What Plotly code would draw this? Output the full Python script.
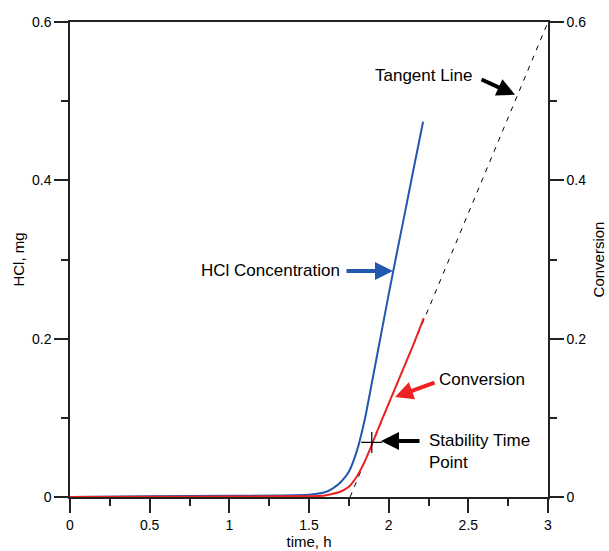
import plotly.graph_objects as go

# ---- data ----
hcl_time = [0, 0.5, 1.0, 1.3, 1.5, 1.55, 1.6, 1.65, 1.7, 1.75, 1.8, 1.85, 1.9, 1.95, 2.0, 2.05, 2.1, 2.15, 2.216]
hcl_mg = [0, 0.0008, 0.0015, 0.002, 0.003, 0.004, 0.006, 0.011, 0.019, 0.032, 0.058, 0.098, 0.15, 0.203, 0.256, 0.307, 0.357, 0.408, 0.474]

conv_time = [0, 0.5, 1.0, 1.3, 1.5, 1.6, 1.65, 1.7, 1.75, 1.8, 1.85, 1.9, 1.95, 2.0, 2.05, 2.1, 2.15, 2.22]
conversion = [0, 0.0003, 0.0006, 0.0008, 0.001, 0.002, 0.004, 0.007, 0.013, 0.026, 0.045, 0.069, 0.094, 0.118, 0.142, 0.166, 0.19, 0.226]

tangent_time = [1.758, 3.0]
tangent_conv = [0.0, 0.6]

stability_time = [1.894]
stability_conv = [0.069]

x_ticks = [0, 0.5, 1, 1.5, 2, 2.5, 3]
x_ticklabels = ["0", "0.5", "1", "1.5", "2", "2.5", "3"]
y_ticks = [0, 0.2, 0.4, 0.6]
y_ticklabels = ["0", "0.2", "0.4", "0.6"]

BLUE = "#2457AE"
RED = "#EE2222"
AX = "#222222"
FONT = "Liberation Sans, Arial, sans-serif"

fig = go.Figure()
fig.add_trace(go.Scatter(x=tangent_time, y=tangent_conv, mode="lines", yaxis="y2",
                         line=dict(color="black", width=1, dash="5px,6px"), showlegend=False))
fig.add_trace(go.Scatter(x=hcl_time, y=hcl_mg, mode="lines",
                         line=dict(color=BLUE, width=2, shape="spline", smoothing=0.6), showlegend=False))
fig.add_trace(go.Scatter(x=conv_time, y=conversion, mode="lines", yaxis="y2",
                         line=dict(color=RED, width=2, shape="spline", smoothing=0.6), showlegend=False))
fig.add_trace(go.Scatter(x=stability_time, y=stability_conv, mode="markers", yaxis="y2",
                         marker=dict(symbol="cross-thin", size=15, line=dict(color="black", width=1.2)),
                         showlegend=False))

axis_common = dict(showgrid=False, zeroline=False, showline=True, linecolor=AX, linewidth=1.5,
                   ticks="outside", ticklen=14, tickwidth=1.5, tickcolor=AX, automargin=False,
                   tickfont=dict(family=FONT, size=14, color="black"))

fig.update_layout(
    width=609, height=551,
    margin=dict(l=70, r=61, t=22, b=54),
    paper_bgcolor="white", plot_bgcolor="white",
    font=dict(family=FONT, color="black"),
    xaxis=dict(range=[0, 3], tickvals=x_ticks, ticktext=x_ticklabels, mirror=True,
               minor=dict(ticks="outside", ticklen=7, dtick=0.25, tickwidth=1.5, tickcolor=AX),
               title=dict(text="time, h", font=dict(family=FONT, size=15), standoff=4),
               **axis_common),
    yaxis=dict(range=[0, 0.6], tickvals=y_ticks, ticktext=y_ticklabels,
               minor=dict(ticks="outside", ticklen=7, dtick=0.1, tickwidth=1.5, tickcolor=AX),
               title=dict(text="HCl, mg", font=dict(family=FONT, size=15), standoff=4),
               **axis_common),
    yaxis2=dict(range=[0, 0.6], tickvals=y_ticks, ticktext=y_ticklabels, overlaying="y", side="right",
                minor=dict(ticks="outside", ticklen=7, dtick=0.1, tickwidth=1.5, tickcolor=AX),
                title=dict(text="Conversion", font=dict(family=FONT, size=15), standoff=8),
                **axis_common),
)

ann_font = dict(family=FONT, size=17, color="black")
annotations = [
    # HCl concentration
    dict(x=2.027, y=0.2855, xref="x", yref="y", text="", showarrow=True, ax=-48, ay=0,
         arrowcolor=BLUE, arrowwidth=4, arrowhead=2, arrowsize=0.9, standoff=0),
    dict(x=1.707, y=0.2855, xref="x", yref="y", text="HCl Concentration", showarrow=False,
         xanchor="right", yanchor="middle", font=ann_font),
    # Conversion
    dict(x=2.040, y=0.1263, xref="x", yref="y", text="", showarrow=True, ax=41, ay=-15,
         arrowcolor=RED, arrowwidth=4, arrowhead=2, arrowsize=0.9, standoff=0),
    dict(x=2.303, y=0.148, xref="x", yref="y", text="Conversion", showarrow=False,
         xanchor="left", yanchor="middle", font=ann_font),
    # Stability time point
    dict(x=1.952, y=0.0707, xref="x", yref="y", text="", showarrow=True, ax=40, ay=0,
         arrowcolor="black", arrowwidth=4, arrowhead=2, arrowsize=0.9, standoff=0),
    dict(x=2.24, y=0.0575, xref="x", yref="y", text="Stability Time<br>Point", showarrow=False,
         xanchor="left", yanchor="middle", align="left", font=ann_font),
    # Tangent line
    dict(x=2.793, y=0.508, xref="x", yref="y", text="", showarrow=True, ax=-35, ay=-16,
         arrowcolor="black", arrowwidth=4, arrowhead=2, arrowsize=0.9, standoff=0),
    dict(x=2.536, y=0.533, xref="x", yref="y", text="Tangent Line", showarrow=False,
         xanchor="right", yanchor="middle", font=ann_font),
]
fig.update_layout(annotations=annotations)

fig.write_html("out.html", config={"displayModeBar": False},
               post_script="document.body.style.margin='0';")
